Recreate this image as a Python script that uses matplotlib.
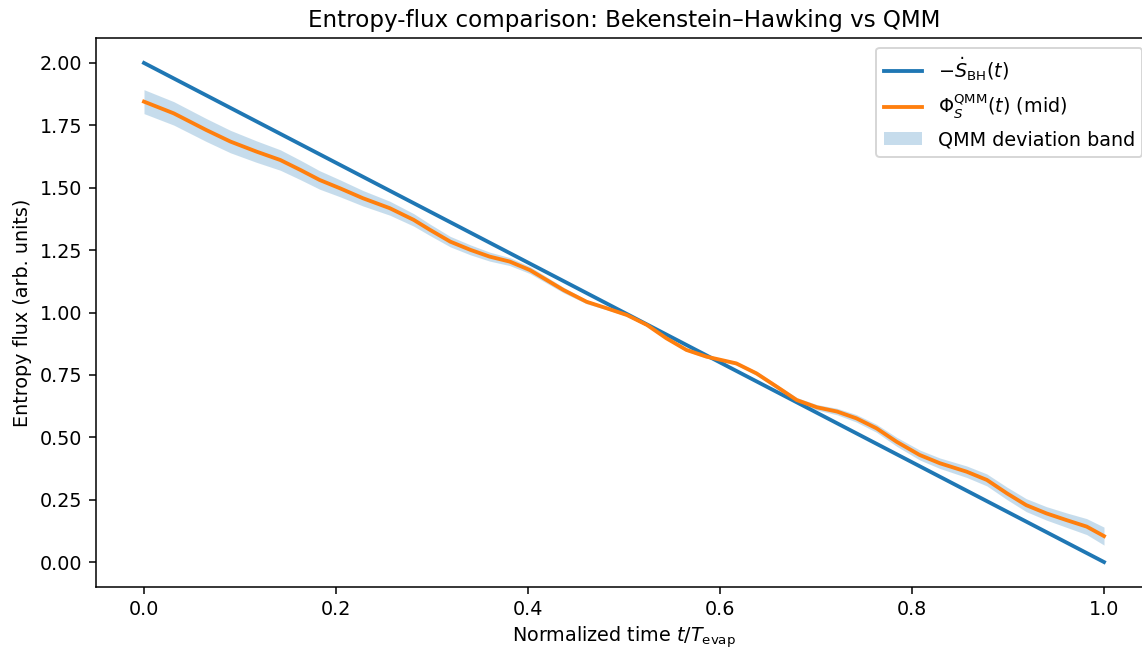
import numpy as np
import matplotlib
matplotlib.use("Agg")
import matplotlib.pyplot as plt

# Bekenstein-Hawking line
bh_t = [0.0, 1.0]
bh_flux = [2.0, 0.0]

# QMM mid curve
qmm_t = [0.000, 0.031, 0.065, 0.090, 0.117, 0.142, 0.163, 0.183, 0.204, 0.228,
         0.256, 0.281, 0.298, 0.319, 0.340, 0.360, 0.381, 0.402, 0.437, 0.461,
         0.482, 0.503, 0.524, 0.544, 0.565, 0.586, 0.617, 0.638, 0.659, 0.680,
         0.701, 0.722, 0.742, 0.763, 0.784, 0.808, 0.829, 0.857, 0.878, 0.899,
         0.919, 0.940, 0.961, 0.982, 1.000]
qmm_mid = [1.845, 1.798, 1.731, 1.685, 1.645, 1.611, 1.571, 1.531, 1.498, 1.458,
           1.418, 1.371, 1.331, 1.284, 1.251, 1.224, 1.204, 1.170, 1.090, 1.043,
           1.017, 0.990, 0.950, 0.897, 0.850, 0.823, 0.796, 0.756, 0.703, 0.649,
           0.620, 0.603, 0.576, 0.536, 0.482, 0.429, 0.396, 0.362, 0.329, 0.275,
           0.228, 0.195, 0.168, 0.142, 0.104]
# band half-width at the same times
qmm_half = [0.048, 0.047, 0.046, 0.045, 0.043, 0.041, 0.039, 0.037, 0.034, 0.031,
            0.028, 0.025, 0.023, 0.021, 0.020, 0.018, 0.016, 0.014, 0.011, 0.008,
            0.006, 0.005, 0.005, 0.005, 0.005, 0.006, 0.007, 0.008, 0.009, 0.010,
            0.011, 0.013, 0.015, 0.016, 0.018, 0.020, 0.021, 0.023, 0.024, 0.025,
            0.026, 0.027, 0.029, 0.032, 0.036]

t = np.array(qmm_t)
mid = np.array(qmm_mid)
half = np.array(qmm_half)

dpi = 138
fig = plt.figure(figsize=(1142 / dpi, 649 / dpi), dpi=dpi)
ax = fig.add_axes([96 / 1142, 62 / 649, 1056 / 1142, 549 / 649])

l1, = ax.plot(bh_t, bh_flux, color="C0", lw=2, label=r"$-\dot{S}_{\rm BH}(t)$")
l2, = ax.plot(t, mid, color="C1", lw=2, solid_joinstyle="round",
              label=r"$\Phi_S^{\rm QMM}(t)$ (mid)")
band = ax.fill_between(t, mid - half, mid + half, color="C0", alpha=0.25,
                       linewidth=0, zorder=1, label="QMM deviation band")

ax.set_xlim(-0.05, 1.05)
ax.set_ylim(-0.1, 2.1)
ax.set_xticks([0.0, 0.2, 0.4, 0.6, 0.8, 1.0])
ax.set_yticks([0.0, 0.25, 0.5, 0.75, 1.0, 1.25, 1.5, 1.75, 2.0])
ax.set_xlabel(r"Normalized time $t/T_{\rm evap}$", labelpad=2.5)
ax.set_ylabel("Entropy flux (arb. units)")
ax.set_title("Entropy-flux comparison: Bekenstein–Hawking vs QMM")
ax.legend(handles=[l1, l2, band], loc="upper right")

fig.savefig("out.png", dpi=dpi)
